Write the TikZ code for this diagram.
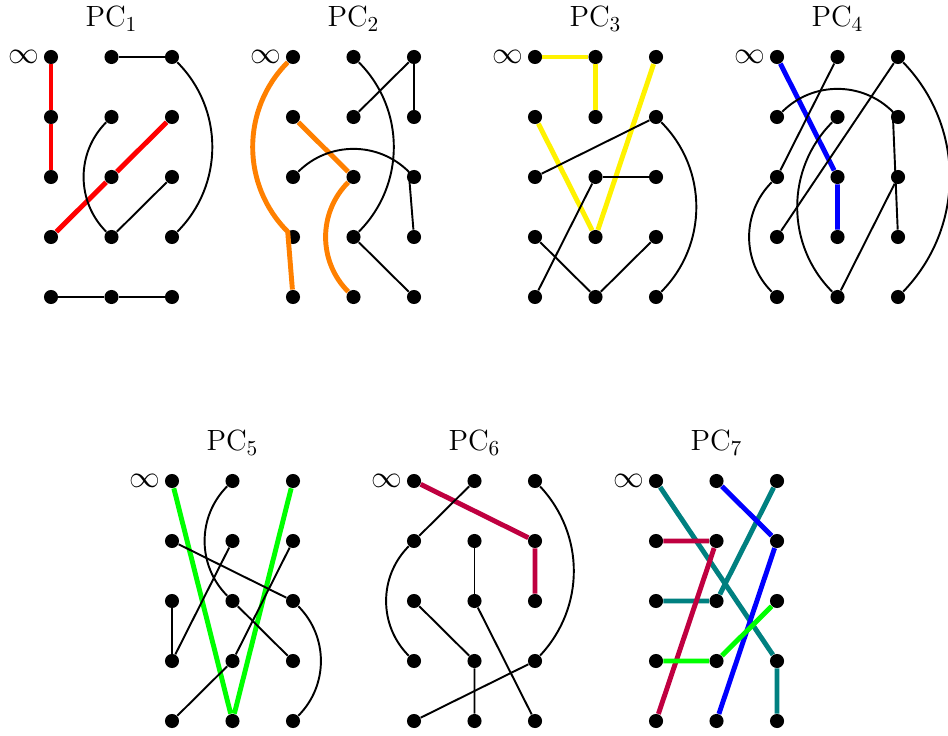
\documentclass[tikz,border=0pt]{standalone}
\usepackage{fontspec}
\begin{document}
\begin{tikzpicture}[x=0.4684pt,y=-0.4684pt,
  dot/.style={circle,fill=black,inner sep=0pt,minimum size=6.6pt},
  lbl/.style={font=\fontsize{13.7}{16}\selectfont},
  edge/.style={line width=0.9pt},
  hl/.style={line width=2.3pt},
  every to/.style={bend angle=45}]
\useasboundingbox (0,0) rectangle (948,736);
\foreach \p/\n/\x/\y in {A/1/51/57, B/2/293/57, C/3/535/57, D/4/777/57, E/5/172/481, F/6/414/481, G/7/656/481}{
  \foreach \c in {0,1,2}{\foreach \r in {0,...,4}{
    \node[dot] (\p\c\r) at ({\x+60.5*\c},{\y+60*\r}) {};
  }}
  \node[lbl,anchor=base] (T\p) at ({\x+60.5},{\y-30}) {PC$_{\n}$};
  \node[lbl,anchor=east,inner sep=2pt] (I\p) at (\p00.west) {$\infty$};
}
% coloured paths
\draw[hl,red] (A00) -- (A01) -- (A02);
\draw[hl,red] (A03) -- (A12) -- (A21);
\draw[hl,orange] (B00) to[bend right] (B03) -- (B04);
\draw[hl,orange] (B01) -- (B12);
\draw[hl,orange] (B12) to[bend right] (B14);
\draw[hl,yellow] (C00) -- (C10) -- (C11);
\draw[hl,yellow] (C01) -- (C13) -- (C20);
\draw[hl,blue] (D00) -- (D12) -- (D13);
\draw[hl,green] (E00) -- (E14) -- (E20);
\draw[hl,purple] (F00) -- (F21) -- (F22);
\draw[hl,teal] (G00) -- (G23) -- (G24);
\draw[hl,teal] (G20) -- (G12) -- (G02);
\draw[hl,purple] (G01) -- (G11) -- (G04);
\draw[hl,blue] (G10) -- (G21) -- (G14);
\draw[hl,green] (G03) -- (G13) -- (G22);
% black edges
\draw[edge] (A10) -- (A20);
\draw[edge] (A20) to[bend left] (A23);
\draw[edge] (A11) to[bend right] (A13);
\draw[edge] (A22) -- (A13);
\draw[edge] (A04) -- (A14) -- (A24);
\draw[edge] (B10) to[bend left] (B13);
\draw[edge] (B20) -- (B11);
\draw[edge] (B20) -- (B21);
\draw[edge] (B02) to[bend left] (B22) -- (B23);
\draw[edge] (B13) -- (B24);
\draw[edge] (C02) -- (C21);
\draw[edge] (C21) to[bend left] (C24);
\draw[edge] (C12) -- (C22);
\draw[edge] (C12) -- (C04);
\draw[edge] (C03) -- (C14) -- (C23);
\draw[edge] (D10) -- (D02);
\draw[edge] (D20) -- (D03);
\draw[edge] (D20) to[bend left=44] (D24);
\draw[edge] (D01) to[bend left] (D21) -- (D23);
\draw[edge] (D11) to[bend right] (D14);
\draw[edge] (D02) to[bend right] (D04);
\draw[edge] (D22) -- (D14);
\draw[edge] (E10) to[bend right] (E12);
\draw[edge] (E01) -- (E22);
\draw[edge] (E22) to[bend left] (E24);
\draw[edge] (E02) -- (E03);
\draw[edge] (E11) -- (E03);
\draw[edge] (E21) -- (E13) -- (E04);
\draw[edge] (E12) -- (E23);
\draw[edge] (F10) -- (F01);
\draw[edge] (F01) to[bend right] (F03);
\draw[edge] (F20) to[bend left=43] (F23);
\draw[edge] (F11) -- (F12);
\draw[edge] (F02) -- (F13) -- (F14);
\draw[edge] (F12) -- (F24);
\draw[edge] (F23) -- (F04);
\end{tikzpicture}
\end{document}
